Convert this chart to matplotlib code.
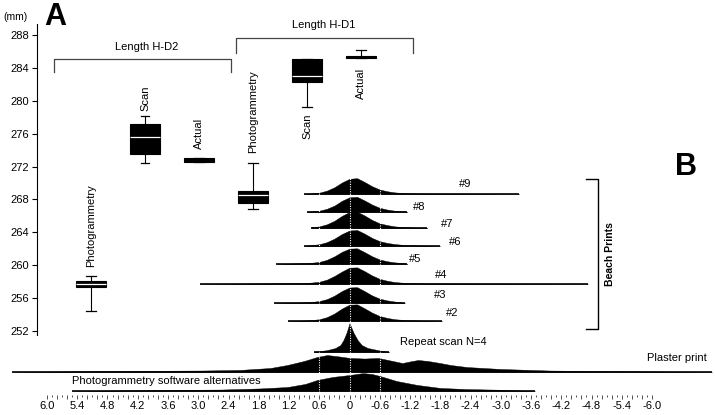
import numpy as np
import matplotlib
matplotlib.use('Agg')
import matplotlib.pyplot as plt
from matplotlib.ticker import FuncFormatter

plt.rcParams['font.family'] = ['Liberation Sans', 'DejaVu Sans']
plt.rcParams['font.size'] = 8

# ---------------- Panel A : lengths (mm) ----------------
methods = ['Photogrammetry', 'Scan', 'Actual']
# whislo, q1, median, q3, whishi
hd2_stats = [
    [254.4, 257.35, 257.7, 258.1, 258.7],
    [272.4, 273.5, 275.6, 277.2, 278.1],
    [272.5, 272.5, 272.8, 273.1, 273.1],
]
hd1_stats = [
    [266.8, 267.55, 268.5, 269.0, 272.4],
    [279.3, 282.3, 283.0, 285.1, 285.1],
    [285.15, 285.15, 285.3, 285.45, 286.2],
]
y_ticks = [252, 256, 260, 264, 268, 272, 276, 280, 284, 288]

# ---------------- Panel B : deviation densities ----------------
dev_grid = [0.9, 0.75, 0.6, 0.45, 0.3, 0.15, 0.0, -0.15, -0.3, -0.45, -0.6, -0.75, -0.9, -1.1, -1.4]
beach_names = ['#9', '#8', '#7', '#6', '#5', '#4', '#3', '#2']
beach_max = [0.90, 0.85, 0.76, 0.90, 1.45, 2.96, 1.49, 1.22]
beach_min = [-3.37, -1.15, -1.54, -1.80, -1.15, -4.73, -1.10, -1.84]
beach_dens = [
    [0.02, 0.04, 0.08, 0.21, 0.42, 0.72, 0.95, 0.99, 0.75, 0.48, 0.28, 0.17, 0.10, 0.05, 0.03],
    [0.02, 0.04, 0.08, 0.20, 0.40, 0.70, 0.92, 0.95, 0.72, 0.46, 0.26, 0.15, 0.08, 0.04, 0.00],
    [0.03, 0.05, 0.10, 0.23, 0.45, 0.76, 1.00, 1.02, 0.78, 0.50, 0.29, 0.18, 0.10, 0.05, 0.02],
    [0.03, 0.06, 0.11, 0.24, 0.46, 0.75, 0.97, 1.00, 0.77, 0.50, 0.30, 0.19, 0.12, 0.06, 0.03],
    [0.05, 0.08, 0.13, 0.26, 0.48, 0.76, 0.96, 0.98, 0.74, 0.48, 0.28, 0.17, 0.10, 0.05, 0.00],
    [0.06, 0.09, 0.14, 0.27, 0.50, 0.78, 1.02, 1.04, 0.80, 0.53, 0.32, 0.20, 0.12, 0.07, 0.04],
    [0.04, 0.07, 0.12, 0.24, 0.46, 0.75, 0.97, 0.99, 0.74, 0.47, 0.27, 0.16, 0.09, 0.04, 0.00],
    [0.03, 0.06, 0.11, 0.24, 0.47, 0.78, 1.02, 1.04, 0.79, 0.52, 0.31, 0.19, 0.11, 0.06, 0.03],
]
repeat_x = [0.71, 0.44, 0.28, 0.18, 0.12, 0.06, 0.0, -0.08, -0.16, -0.24, -0.36, -0.56, -0.79]
repeat_d = [0.0, 0.12, 0.25, 0.44, 0.75, 1.2, 1.8, 1.2, 0.75, 0.44, 0.25, 0.12, 0.0]
plaster_x = [6.69, 4.94, 2.96, 2.17, 1.57, 1.23, 0.9, 0.64, 0.44, 0.2, 0.0, -0.3, -0.57,
             -0.9, -1.05, -1.2, -1.36, -1.55, -1.8, -2.0, -2.33, -2.99, -3.98, -5.0, -7.19]
plaster_d = [0.0, 0.06, 0.09, 0.13, 0.25, 0.44, 0.69, 0.94, 1.06, 0.97, 0.88, 0.84, 0.88,
             0.66, 0.56, 0.66, 0.75, 0.69, 0.56, 0.44, 0.31, 0.19, 0.09, 0.06, 0.0]
software_x = [5.5, 3.95, 2.56, 1.77, 1.23, 0.88, 0.64, 0.33, 0.0, -0.27, -0.45, -0.6,
              -0.94, -1.34, -1.8, -2.33, -2.99, -3.68]
software_d = [0.0, 0.06, 0.09, 0.16, 0.25, 0.44, 0.69, 0.88, 1.0, 1.12, 1.06, 0.94,
              0.62, 0.38, 0.19, 0.12, 0.08, 0.0]

# ---------------- layout ----------------
W, H = 715, 415
fig = plt.figure(figsize=(W / 100, H / 100), dpi=100)


def px_rect(l, t, r, b):
    return [l / W, 1 - b / H, (r - l) / W, (b - t) / H]


ax1 = fig.add_axes(px_rect(37, 24, 715, 335))
ax2 = fig.add_axes(px_rect(0, 0, 715, 395))
for ax in (ax1, ax2):
    ax.patch.set_alpha(0)

# ---- panel A
ax1.set_xlim(0, 678 / 54)
ax1.set_ylim(288 - 300 / 8.222, 288 + 11 / 8.222)
positions = np.arange(1, 7)
stats = []
for label, row in zip(methods * 2, hd2_stats + hd1_stats):
    lo, q1, med, q3, hi = row
    stats.append(dict(label=label, whislo=lo, q1=q1, med=med, q3=q3, whishi=hi, fliers=[]))
bp = ax1.bxp(stats, positions=positions, widths=0.55, capwidths=[0.2, 0.14, 0.2, 0.2, 0.2, 0.2],
             patch_artist=True, showfliers=False, manage_ticks=False,
             boxprops=dict(facecolor='black', edgecolor='black', lw=0.8),
             medianprops=dict(color='white', lw=0.9),
             whiskerprops=dict(color='black', lw=0.8),
             capprops=dict(color='black', lw=0.9))
for i in (2, 5):
    bp['medians'][i].set_color('black')

label_side = ['above', 'above', 'above', 'above', 'below', 'below']
label_gap = [1.1, 0.7, 1.0, 1.2, 0.8, 1.1]
for pos, s, side, gap in zip(positions, stats, label_side, label_gap):
    if side == 'above':
        ax1.text(pos, s['whishi'] + gap, s['label'], rotation=90, ha='center', va='bottom')
    else:
        ax1.text(pos, s['whislo'] - gap, s['label'], rotation=90, ha='center', va='top')

# group brackets
bk = dict(color='#444444', lw=0.9)
ax1.plot([0.31, 0.31, 3.59, 3.59], [283.5, 285.08, 285.08, 283.5], **bk)
ax1.text(2.04, 286.5, 'Length H-D2', ha='center', va='center')
ax1.plot([3.69, 3.69, 6.96, 6.96], [285.8, 287.64, 287.64, 285.8], **bk)
ax1.text(5.31, 289.2, 'Length H-D1', ha='center', va='center')

ax1.set_yticks(y_ticks)
ax1.tick_params(axis='y', direction='out', length=3.6, width=0.8, pad=2, labelsize=8)
ax1.set_xticks([])
for side in ('top', 'right', 'bottom'):
    ax1.spines[side].set_visible(False)
ax1.spines['left'].set_linewidth(0.8)

# ---- panel B
ax2.set_xlim(6.932, -7.249)
ax2.set_ylim(395, 0)
ridge_px = 16
beach_base = [194, 212, 228, 246, 264, 284, 303, 321]
label_pos = [(-2.29, 184), (-1.38, 207), (-1.94, 224), (-2.09, 242),
             (-1.30, 259), (-1.82, 275), (-1.80, 295), (-2.04, 313)]


def ridge(xs, ds, base):
    ys = base - np.asarray(ds) * ridge_px
    ax2.fill_between(xs, base, ys, color='black', lw=0.3)
    ax2.plot([xs[0], xs[-1]], [base, base], color='black', lw=1.2, solid_capstyle='butt')


for name, hi, lo, dens, base, (lx, ly) in zip(beach_names, beach_max, beach_min,
                                              beach_dens, beach_base, label_pos):
    inside = [(g, d) for g, d in zip(dev_grid, dens) if lo < g < hi]
    xs = [hi] + [g for g, _ in inside] + [lo]
    ds = [0] + [d for _, d in inside] + [0]
    ridge(xs, ds, base)
    ax2.text(lx, ly, name, ha='center', va='center')

ridge(repeat_x, repeat_d, 352)
ridge(plaster_x, plaster_d, 372)
ridge(software_x, software_d, 391)

ax2.vlines([0.6, 0.0, -0.6], 176, 392, colors='white', linestyles=(0, (1, 1.2)), lw=0.8, zorder=5)

ax2.text(-1.0, 342, 'Repeat scan N=4', ha='left', va='center')
ax2.text(-7.09, 358, 'Plaster print', ha='right', va='center')
ax2.text(5.50, 381, 'Photogrammetry software alternatives', ha='left', va='center')

ax2.plot([-4.69, -4.93, -4.93, -4.69], [179, 179, 329, 329], color='black', lw=1)
ax2.text(-5.17, 254, 'Beach Prints', rotation=90, ha='center', va='center',
         fontweight='bold', fontsize=7.5)

major = np.round(np.arange(-6.0, 6.01, 0.2), 1)
minor = np.round(np.arange(-5.9, 6.0, 0.2), 1)
ax2.set_xticks(major)
ax2.set_xticks(minor, minor=True)


def fmt(v, _):
    k = v / 0.6
    if abs(k - round(k)) > 1e-6:
        return ''
    return '0' if abs(v) < 1e-9 else f'{v:.1f}'


ax2.xaxis.set_major_formatter(FuncFormatter(fmt))
ax2.tick_params(axis='x', which='major', direction='out', length=2.9, width=0.6,
                color='#333333', pad=1.5, labelsize=8)
ax2.tick_params(axis='x', which='minor', direction='out', length=1.5, width=0.6, color='#333333')
ax2.set_yticks([])
for s in ax2.spines.values():
    s.set_visible(False)

fig.text(15 / W, 1 - 17 / H, '(mm)', ha='center', va='center', fontsize=7.5)
fig.text(55 / W, 1 - 17 / H, 'A', ha='center', va='center', fontsize=22, fontweight='bold')
fig.text(686 / W, 1 - 167 / H, 'B', ha='center', va='center', fontsize=22, fontweight='bold')

fig.savefig('out.png', dpi=100)
